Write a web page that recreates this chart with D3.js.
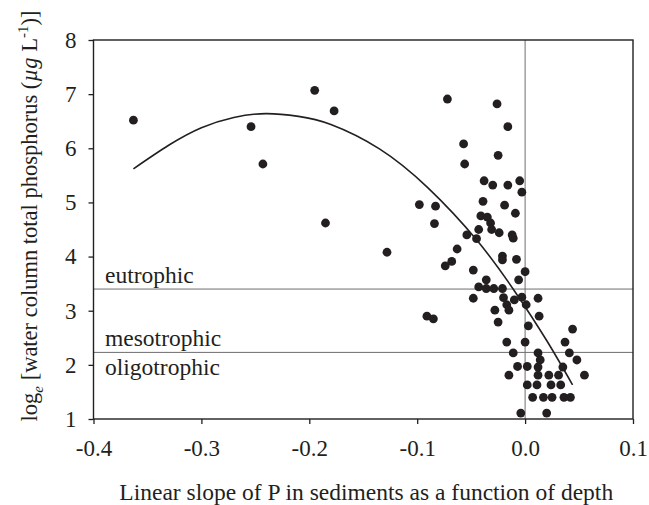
<!DOCTYPE html>
<html>
<head>
<meta charset="utf-8">
<script src="https://cdn.jsdelivr.net/npm/d3@7"></script>
<style>
  body { margin: 0; background: #fff; }
  text { font-family: "Liberation Serif", "Times New Roman", serif; fill: #231f20; }
</style>
</head>
<body>
<script>
// slope of P vs depth (x) and log_e TP in the water column (y)
var slopes = [-0.363, -0.254, -0.195, -0.177, -0.243, -0.185, -0.128, -0.098, -0.083, -0.084,
  -0.091, -0.085, -0.074, -0.068, -0.063, -0.072, -0.026, -0.016, -0.057, -0.025,
  -0.056, -0.038, -0.030, -0.016, -0.005, -0.003, -0.039, -0.019, -0.009, -0.041,
  -0.035, -0.032, -0.031, -0.024, -0.043, -0.054, -0.045, -0.012, -0.011, -0.021,
  -0.021, -0.008, -0.048, 0.000, -0.036, -0.006, -0.043, -0.036, -0.029, -0.021,
  -0.048, -0.020, -0.010, -0.003, 0.012, -0.017, 0.001, -0.028, -0.015, 0.013,
  -0.025, 0.003, 0.044, -0.017, 0.000, 0.037, -0.011, 0.012, 0.041, 0.014,
  0.048, -0.007, 0.002, 0.012, 0.035, -0.015, 0.012, 0.022, 0.031, 0.055,
  0.002, 0.011, 0.024, 0.033, 0.007, 0.017, 0.025, 0.036, 0.042, -0.004, 0.020];
var logTP = [6.52, 6.40, 7.07, 6.69, 5.71, 4.62, 4.08, 4.96, 4.93, 4.61,
  2.90, 2.85, 3.83, 3.91, 4.14, 6.91, 6.82, 6.40, 6.08, 5.87,
  5.71, 5.40, 5.32, 5.32, 5.40, 5.19, 5.02, 4.95, 4.80, 4.75,
  4.73, 4.62, 4.50, 4.44, 4.50, 4.40, 4.33, 4.40, 4.34, 4.01,
  3.94, 3.95, 3.75, 3.72, 3.57, 3.57, 3.44, 3.41, 3.41, 3.41,
  3.23, 3.24, 3.20, 3.25, 3.23, 3.11, 3.11, 3.01, 3.01, 2.90,
  2.79, 2.72, 2.66, 2.42, 2.42, 2.42, 2.22, 2.22, 2.22, 2.09,
  2.09, 1.97, 1.97, 1.96, 1.96, 1.81, 1.81, 1.81, 1.81, 1.81,
  1.63, 1.63, 1.63, 1.63, 1.40, 1.40, 1.40, 1.40, 1.40, 1.11, 1.11];

// fitted curve, read at a few x positions
var fitX = [-0.363, -0.33, -0.30, -0.27, -0.24, -0.21, -0.18, -0.135, -0.09, -0.045, -0.01, 0.02, 0.044];
var fitY = [5.62, 6.06, 6.38, 6.57, 6.64, 6.59, 6.44, 5.99, 5.27, 4.31, 3.37, 2.45, 1.63];

// trophic boundaries
var trophicLines = [3.40, 2.23];
var trophicLabels = ["eutrophic", "mesotrophic", "oligotrophic"];
var trophicLabelY = [3.52, 2.35, 1.82];

var xTicks = [-0.4, -0.3, -0.2, -0.1, 0.0, 0.1];
var yTicks = [1, 2, 3, 4, 5, 6, 7, 8];

var width = 649, height = 505;
var m = {left: 93.5, right: 633, top: 40, bottom: 419};

var svg = d3.select("body").append("svg")
  .attr("width", width)
  .attr("height", height);

var x = d3.scaleLinear().domain([-0.4, 0.1]).range([m.left, m.right]);
var y = d3.scaleLinear().domain([1, 8]).range([m.bottom, m.top]);

// reference lines
svg.selectAll("line.trophic").data(trophicLines).enter().append("line")
  .attr("class", "trophic")
  .attr("x1", m.left).attr("x2", m.right)
  .attr("y1", function(d){ return y(d); })
  .attr("y2", function(d){ return y(d); })
  .attr("stroke", "#6d6d6d").attr("stroke-width", 1);

svg.append("line")
  .attr("x1", x(0)).attr("x2", x(0))
  .attr("y1", m.top).attr("y2", m.bottom)
  .attr("stroke", "#6d6d6d").attr("stroke-width", 1);

svg.selectAll("text.trophic").data(trophicLabels).enter().append("text")
  .attr("class", "trophic")
  .attr("x", 105)
  .attr("y", function(d, i){ return y(trophicLabelY[i]); })
  .attr("font-size", 23.5)
  .text(function(d){ return d; });

// points
var pts = slopes.map(function(s, i){ return [s, logTP[i]]; });
svg.selectAll("circle").data(pts).enter().append("circle")
  .attr("cx", function(d){ return x(d[0]); })
  .attr("cy", function(d){ return y(d[1]); })
  .attr("r", 4.4)
  .attr("fill", "#231f20");

// fitted curve
var fit = fitX.map(function(v, i){ return [v, fitY[i]]; });
svg.append("path")
  .datum(fit)
  .attr("fill", "none")
  .attr("stroke", "#231f20")
  .attr("stroke-width", 1.6)
  .attr("d", d3.line()
    .x(function(d){ return x(d[0]); })
    .y(function(d){ return y(d[1]); })
    .curve(d3.curveNatural));

// axes
var xAxis = svg.append("g")
  .attr("transform", "translate(0," + m.bottom + ")")
  .call(d3.axisBottom(x).tickValues(xTicks).tickSize(5).tickPadding(16)
    .tickFormat(d3.format(".1f")));
var yAxis = svg.append("g")
  .attr("transform", "translate(" + m.left + ",0)")
  .call(d3.axisLeft(y).tickValues(yTicks).tickSize(5).tickPadding(12)
    .tickFormat(d3.format("d")));

[xAxis, yAxis].forEach(function(g){
  g.select(".domain").remove();
  g.selectAll("line").attr("stroke", "#231f20").attr("stroke-width", 1.3);
  g.selectAll("text").attr("font-size", 23)
    .attr("font-family", "Liberation Serif").attr("fill", "#231f20");
});
// minus sign as a plain hyphen like the original
xAxis.selectAll("text").text(function(d){ return d3.format(".1f")(d).replace("−", "-"); });

// plot frame
svg.append("rect")
  .attr("x", m.left).attr("y", m.top)
  .attr("width", m.right - m.left).attr("height", m.bottom - m.top)
  .attr("fill", "none")
  .attr("stroke", "#231f20").attr("stroke-width", 1.4);

// axis titles
svg.append("text")
  .attr("x", (m.left + m.right) / 2 + 3)
  .attr("y", 500)
  .attr("text-anchor", "middle")
  .attr("font-size", 23.5)
  .text("Linear slope of P in sediments as a function of depth");

var yt = svg.append("text")
  .attr("transform", "translate(37,216) rotate(-90)")
  .attr("text-anchor", "middle")
  .attr("font-size", 22.5);
yt.append("tspan").text("log");
yt.append("tspan").attr("font-style", "italic").attr("font-size", 15).attr("dy", 6).text("e");
yt.append("tspan").attr("dy", -6).text(" [water column total phosphorus (");
yt.append("tspan").attr("font-style", "italic").text("\u00b5g");
yt.append("tspan").text(" L");
yt.append("tspan").attr("font-size", 15).attr("dy", -9).text("-1");
yt.append("tspan").attr("dy", 9).text(")]");
</script>
</body>
</html>
